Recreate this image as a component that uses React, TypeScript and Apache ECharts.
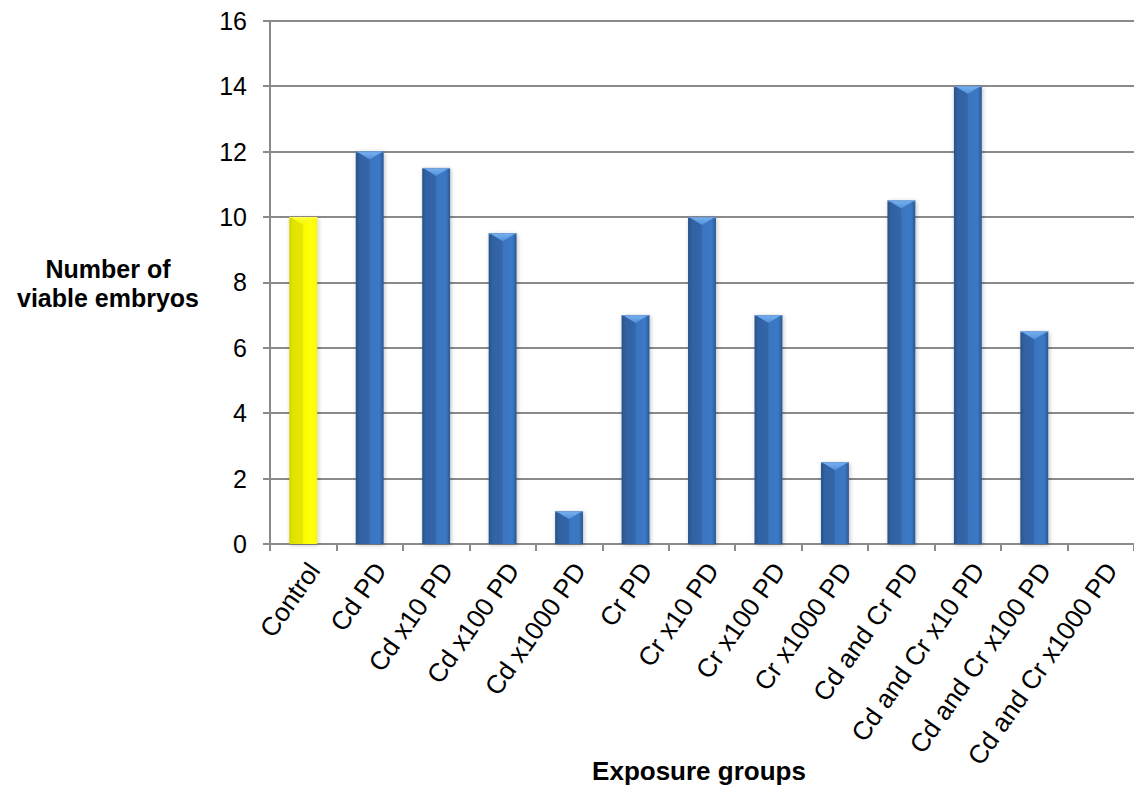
import React, { useEffect, useRef } from "react";
import * as echarts from "echarts";

const categories = [
  "Control",
  "Cd PD",
  "Cd x10 PD",
  "Cd x100 PD",
  "Cd x1000 PD",
  "Cr PD",
  "Cr x10 PD",
  "Cr x100 PD",
  "Cr x1000 PD",
  "Cd and Cr PD",
  "Cd and Cr x10 PD",
  "Cd and Cr x100 PD",
  "Cd and Cr x1000 PD",
];
const viableEmbryos = [10, 12, 11.5, 9.5, 1, 7, 10, 7, 2.5, 10.5, 14, 6.5, 0];
const yTicks = [0, 2, 4, 6, 8, 10, 12, 14, 16];
const yTitle = ["Number of", "viable embryos"];
const xTitle = "Exposure groups";

const FONT = "'Liberation Sans', Arial, sans-serif";

const palettes = {
  blue: {
    body: [
      { offset: 0, color: "#29538a" },
      { offset: 0.15, color: "#3262a3" },
      { offset: 0.48, color: "#3466a9" },
      { offset: 0.52, color: "#3a75bf" },
      { offset: 0.85, color: "#3b78c5" },
      { offset: 1, color: "#2b5892" },
    ],
    top: ["#7ab3f2", "#4f8ed9"],
    edge: "#6c9ed8",
  },
  yellow: {
    body: [
      { offset: 0, color: "#d4d400" },
      { offset: 0.15, color: "#e2e200" },
      { offset: 0.48, color: "#e6e600" },
      { offset: 0.52, color: "#fcfc00" },
      { offset: 0.9, color: "#ffff10" },
      { offset: 1, color: "#f2f200" },
    ],
    top: ["#ffff30", "#f4f400"],
    edge: "#ffff60",
  },
};

export default function App() {
  const ref = useRef<HTMLDivElement>(null);

  useEffect(() => {
    if (!ref.current) return;
    const chart = echarts.init(ref.current, undefined, { renderer: "svg" });

    const renderItem = (params: any, api: any) => {
      const idx = api.value(0);
      const v = api.value(1);
      if (!v) return { type: "group", children: [] };
      const top = api.coord([idx, v]);
      const base = api.coord([idx, 0]);
      const w = api.size([1, 0])[0] * 0.42;
      const x0 = top[0] - w / 2;
      const x1 = top[0] + w / 2;
      const pal = idx === 0 ? palettes.yellow : palettes.blue;
      const bevel = Math.min(8, (base[1] - top[1]) / 2);
      return {
        type: "group",
        children: [
          {
            type: "rect",
            shape: { x: x0, y: top[1], width: w, height: base[1] - top[1] },
            style: {
              fill: new echarts.graphic.LinearGradient(0, 0, 1, 0, pal.body),
              shadowBlur: 4,
              shadowColor: "rgba(0,0,0,0.25)",
              shadowOffsetX: 1,
              shadowOffsetY: 1,
            },
          },
          {
            type: "polygon",
            shape: {
              points: [
                [x0 + 1, top[1]],
                [x1 - 1, top[1]],
                [top[0], top[1] + bevel],
              ],
            },
            style: {
              fill: new echarts.graphic.LinearGradient(0, 0, 0, 1, [
                { offset: 0, color: pal.top[0] },
                { offset: 1, color: pal.top[1] },
              ]),
            },
          },
          {
            type: "line",
            shape: { x1: x0, y1: top[1] + 0.5, x2: x1, y2: top[1] + 0.5 },
            style: { stroke: pal.edge, lineWidth: 1 },
          },
        ],
      };
    };

    chart.setOption({
      animation: false,
      backgroundColor: "#ffffff",
      grid: { left: 270, top: 20.7, width: 869, height: 523.3 },
      xAxis: {
        type: "category",
        data: categories,
        boundaryGap: true,
        axisLine: { show: true, lineStyle: { color: "#8a8a8a", width: 2 } },
        axisTick: { show: true, length: 7, lineStyle: { color: "#8a8a8a", width: 2 } },
        axisLabel: {
          rotate: 55,
          interval: 0,
          margin: 14,
          verticalAlign: "top",
          color: "#000",
          fontSize: 26,
          fontFamily: FONT,
        },
      },
      yAxis: {
        type: "value",
        min: 0,
        max: 16,
        interval: 2,
        axisLine: { show: true, lineStyle: { color: "#8a8a8a", width: 2 } },
        axisTick: { show: true, length: 7, lineStyle: { color: "#8a8a8a", width: 2 } },
        splitLine: { show: true, lineStyle: { color: "#8a8a8a", width: 2 } },
        axisLabel: {
          margin: 23,
          color: "#000",
          fontSize: 25,
          fontFamily: FONT,
          formatter: (val: number) => (yTicks.includes(val) ? String(val) : ""),
        },
      },
      series: [
        {
          type: "custom",
          renderItem,
          data: viableEmbryos.map((v, i) => [i, v]),
          encode: { x: 0, y: 1 },
          z: 3,
        },
      ],
      graphic: [
        ...yTitle.map((line, i) => ({
          type: "text",
          x: 108,
          y: 269 + i * 29,
          style: {
            text: line,
            align: "center",
            verticalAlign: "middle",
            fontSize: 25,
            fontWeight: "bold",
            fontFamily: FONT,
            fill: "#000",
          },
        })),
        {
          type: "text",
          x: 699,
          y: 771,
          style: {
            text: xTitle,
            align: "center",
            verticalAlign: "middle",
            fontSize: 26,
            fontWeight: "bold",
            fontFamily: FONT,
            fill: "#000",
          },
        },
      ],
    });

    return () => chart.dispose();
  }, []);

  return (
    <div
      ref={ref}
      style={{ position: "fixed", left: 0, top: 0, width: 1134, height: 789 }}
    />
  );
}
